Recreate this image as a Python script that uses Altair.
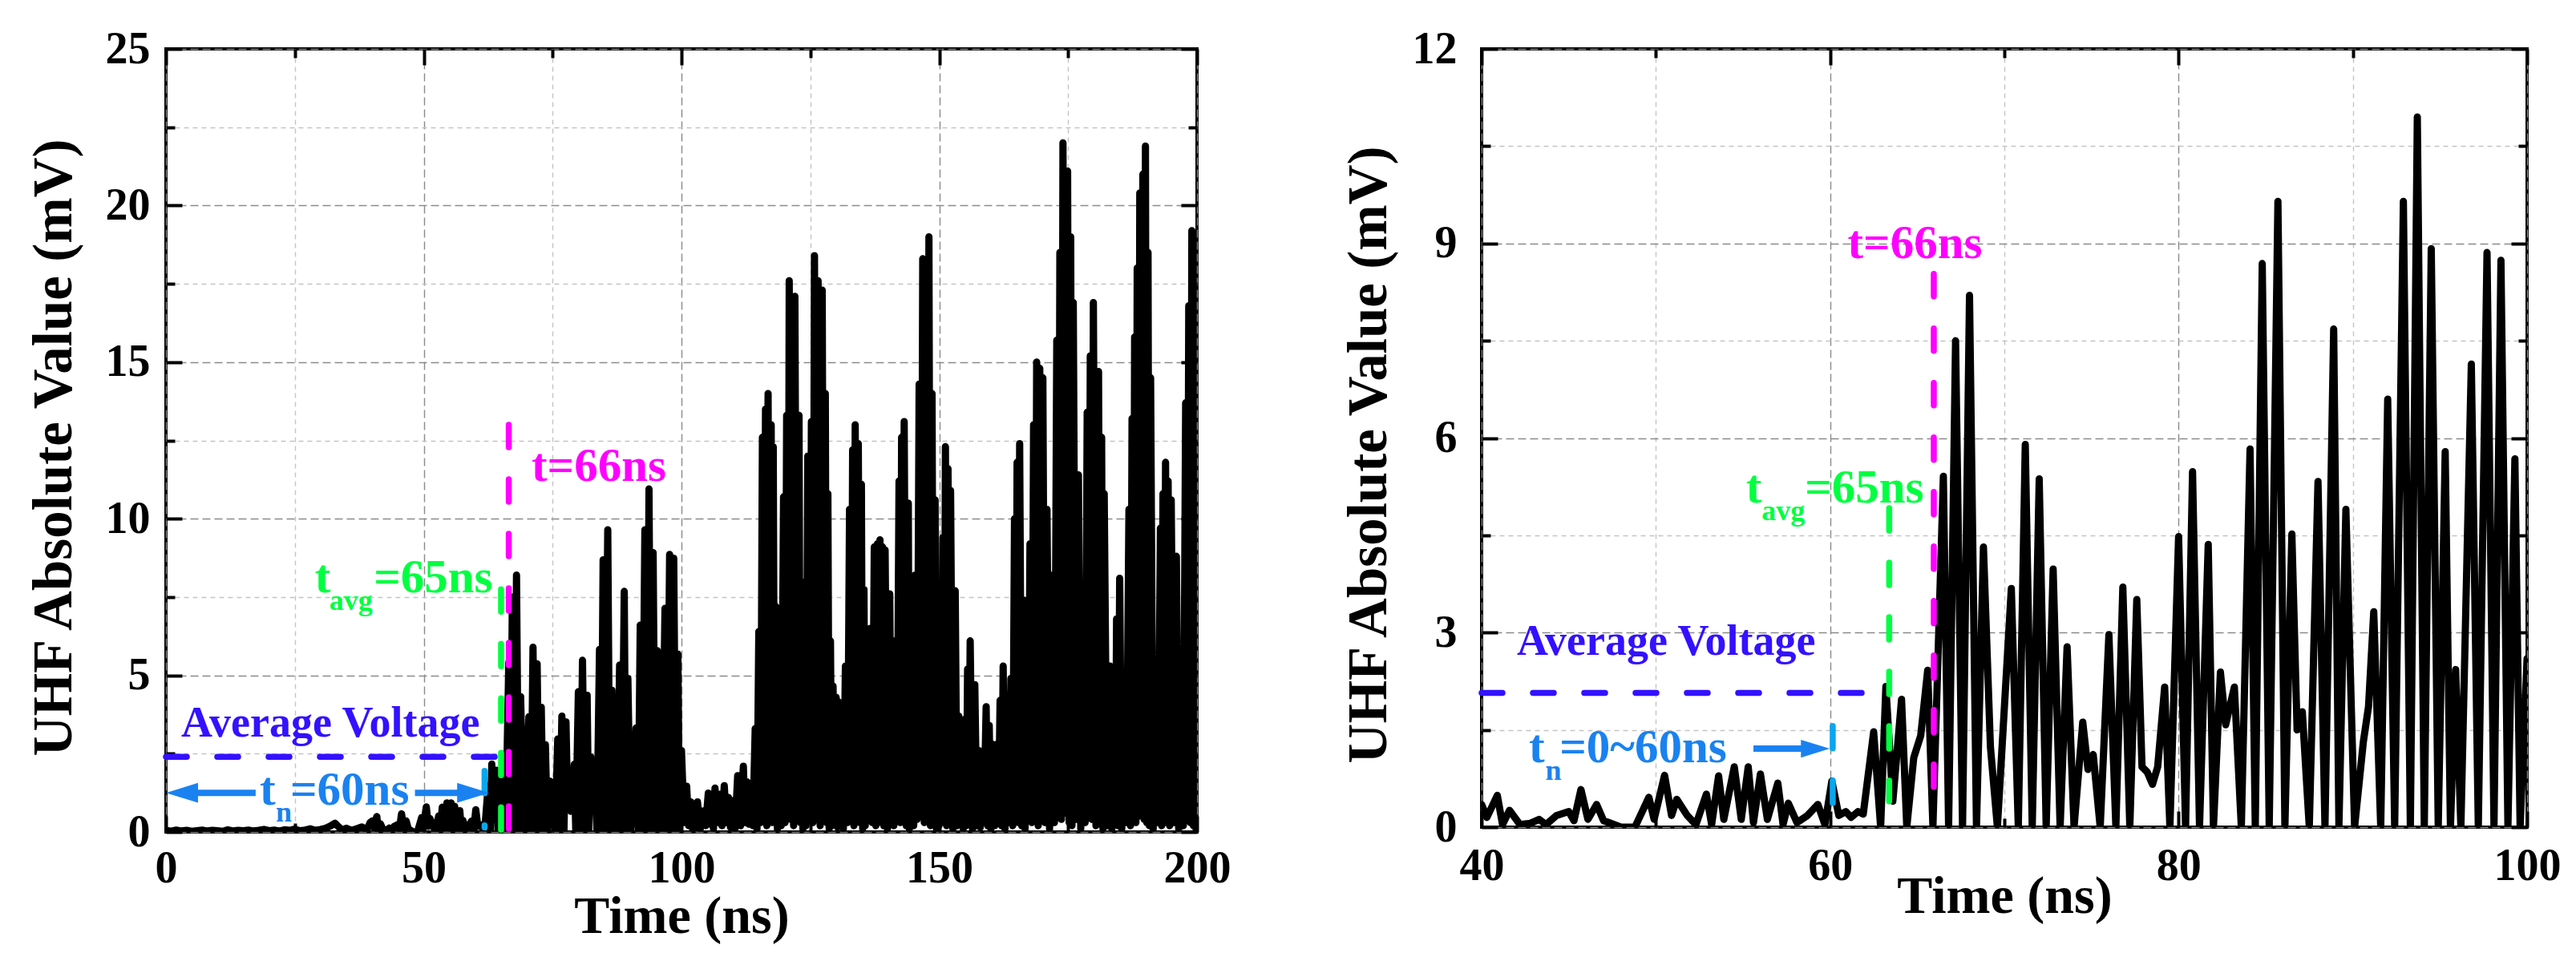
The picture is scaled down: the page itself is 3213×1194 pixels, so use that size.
import altair as alt
import pandas as pd

FONT = "Liberation Serif"
AVG_BLUE = "#3311FF"
TN_BLUE = "#1A82F0"
TN_LINE = "#0AA6EE"
GREEN = "#00FF40"
MAGENTA = "#FF00FF"

# ---------------- signal data (time in ns, |UHF| in mV) ----------------
t_early = [0, 1, 2, 3, 4, 5, 6, 7, 8, 9,
           10, 11, 12, 13, 14, 15, 16, 17, 18, 19,
           20, 21, 22, 23, 24, 25, 26, 27, 28, 29,
           30, 31, 32, 32.8, 33.5, 34.2, 35, 36, 37, 38,
           39, 39.6]
v_early = [0.05, 0.02, 0.06, 0.03, 0.05, 0.02, 0.04, 0.06, 0.03, 0.05,
           0.04, 0.02, 0.07, 0.03, 0.05, 0.04, 0.06, 0.03, 0.05, 0.08,
           0.04, 0.06, 0.03, 0.07, 0.05, 0.09, 0.04, 0.06, 0.10, 0.05,
           0.08, 0.12, 0.20, 0.28, 0.16, 0.06, 0.12, 0.05, 0.10, 0.16,
           0.07, 0.30]

t_mid = [40.0, 40.3, 40.9, 41.2, 41.6, 42.2, 42.8, 43.3, 43.7, 44.3,
         45.0, 45.3, 45.7, 46.1, 46.6, 47.0, 47.3, 48.0, 48.8, 49.6,
         49.9, 50.5, 50.9, 51.2, 51.8, 52.3, 52.9, 53.2, 53.6, 53.9,
         54.5, 54.9, 55.3, 55.6, 56.0, 56.4, 57.0, 57.3, 57.6, 58.1,
         58.7, 59.3, 59.7, 60.1, 60.5, 60.9, 61.2, 61.6, 61.9, 62.5,
         62.9, 63.2, 63.6, 64.1, 64.4, 64.8, 65.2, 65.6, 65.9, 66.5,
         66.8, 67.2, 67.6, 68.0, 68.4, 68.8, 69.2, 69.6, 70.4, 70.8,
         71.2, 71.6, 72.0, 72.4, 72.8, 73.2, 73.6, 74.0, 74.5, 74.8,
         75.1, 75.5, 76.0, 76.4, 76.8, 77.2, 77.6, 77.9, 78.2, 78.5,
         78.8, 79.2, 79.5, 80.0, 80.4, 80.8, 81.2, 81.7, 82.0, 82.4,
         82.7, 83.2, 83.6, 84.1, 84.4, 84.8, 85.2, 85.7, 86.1, 86.5,
         86.8, 87.1, 87.5, 88.0, 88.4, 88.9, 89.2, 89.6, 90.1, 90.6,
         90.9, 91.2, 91.6, 92.0, 92.4, 92.9, 93.3, 93.7, 94.1, 94.5,
         94.9, 95.3, 95.6, 95.9, 96.2, 96.8, 97.2, 97.7, 98.1, 98.5,
         98.9, 99.3, 99.6, 100.0]
v_mid = [0.35, 0.15, 0.49, 0.04, 0.26, 0.04, 0.06, 0.12, 0.04, 0.18,
         0.24, 0.10, 0.58, 0.12, 0.35, 0.10, 0.07, 0.00, 0.00, 0.46,
         0.12, 0.80, 0.18, 0.43, 0.18, 0.04, 0.51, 0.04, 0.79, 0.12,
         0.93, 0.12, 0.93, 0.07, 0.82, 0.12, 0.68, 0.04, 0.37, 0.07,
         0.18, 0.35, 0.04, 0.71, 0.18, 0.24, 0.15, 0.24, 0.20, 1.47,
         0.00, 2.17, 0.40, 1.97, 0.00, 1.07, 1.41, 2.42, 0.00, 5.41,
         0.00, 7.50, 0.00, 8.20, 0.00, 4.32, 1.24, 0.00, 3.68, 0.00,
         5.90, 0.00, 5.37, 0.00, 3.98, 0.00, 2.78, 0.00, 1.62, 0.89,
         1.12, 0.00, 2.97, 0.00, 3.70, 0.00, 3.51, 0.93, 0.85, 0.66,
         0.93, 2.16, 0.00, 4.48, 0.00, 5.48, 0.00, 4.36, 0.00, 2.39,
         1.58, 2.16, 0.00, 5.83, 0.00, 8.69, 0.00, 9.65, 0.00, 4.52,
         1.50, 1.78, 0.00, 5.33, 0.00, 7.68, 0.00, 4.90, 0.00, 1.31,
         1.86, 3.32, 0.00, 6.60, 0.00, 9.65, 0.00, 10.95, 0.00, 8.92,
         0.00, 5.79, 0.00, 2.43, 0.00, 7.14, 0.00, 8.86, 0.00, 8.74,
         0.00, 5.68, 0.00, 2.60]

# late part: oscillation peaks ...
t_peak = [101.0, 101.8, 102.5, 103.1, 104.2, 105.2, 105.9, 106.5, 107.4, 108.3,
          109.1, 109.9, 110.9, 112.0, 112.7, 113.4, 114.3, 115.0, 115.7, 116.3,
          116.8, 117.4, 117.8, 118.3, 118.9, 119.8, 120.4, 120.9, 121.5, 122.0,
          122.8, 123.3, 123.8, 124.5, 125.2, 125.8, 126.5, 127.3, 127.9, 128.4,
          128.9, 129.4, 130.0, 130.5, 131.0, 131.8, 132.6, 133.2, 133.7, 134.3,
          134.9, 135.4, 135.9, 136.6, 137.4, 138.0, 138.5, 139.0, 139.5, 140.4,
          141.0, 141.4, 142.2, 142.7, 143.2, 144.0, 144.4, 144.8, 145.3, 146.1,
          146.8, 147.4, 148.0, 148.6, 149.2, 149.7, 150.2, 150.7, 151.2, 151.7,
          152.2, 153.1, 153.8, 154.3, 155.0, 155.5, 156.0, 156.9, 157.7, 158.2,
          159.1, 159.7, 160.3, 161.2, 161.8, 162.4, 163.1, 163.9, 164.6, 165.1,
          165.6, 166.4, 166.9, 167.6, 168.3, 168.9, 169.5, 170.1, 170.9, 171.9,
          172.8, 173.4, 174.0, 174.9, 175.5, 176.0, 177.0, 177.9, 178.7, 179.3,
          179.9, 180.9, 181.5, 182.0, 183.1, 183.9, 184.4, 185.0, 185.8, 186.8,
          187.4, 187.9, 188.4, 188.9, 189.5, 190.0, 190.5, 191.0, 192.0, 192.9,
          193.4, 193.9, 194.4, 195.0, 196.0, 196.9, 197.8, 198.4, 199.0, 199.6,
          200.0]
v_peak = [1.46, 0.96, 0.80, 0.96, 0.67, 1.24, 1.10, 1.40, 1.20, 1.48,
          1.10, 1.00, 1.80, 2.10, 1.60, 1.55, 3.30, 6.40, 12.60, 13.50,
          14.00, 13.00, 12.30, 7.20, 5.90, 10.70, 13.30, 17.60, 17.00, 17.10,
          13.30, 8.00, 4.66, 12.00, 13.10, 18.40, 17.60, 17.30, 14.00, 10.80,
          6.10, 4.66, 4.30, 4.15, 3.70, 5.30, 10.30, 12.20, 13.00, 12.40,
          11.10, 7.75, 5.20, 6.50, 9.10, 9.20, 9.33, 9.10, 9.00, 7.60,
          5.20, 6.10, 11.20, 12.60, 13.10, 10.50, 7.60, 6.30, 8.20, 14.30,
          18.30, 17.80, 19.00, 14.00, 10.60, 6.90, 6.90, 9.40, 12.30, 11.60,
          10.90, 7.70, 3.70, 3.00, 3.60, 5.20, 6.10, 4.70, 2.60, 2.30,
          4.00, 3.40, 2.80, 2.80, 4.20, 5.30, 4.10, 4.90, 10.00, 11.80,
          12.40, 7.40, 6.50, 9.20, 13.00, 15.00, 14.80, 14.50, 10.30, 8.20,
          15.70, 18.50, 22.00, 21.10, 19.00, 16.90, 11.40, 7.10, 13.40, 15.20,
          16.90, 14.70, 12.60, 10.80, 5.30, 4.40, 6.80, 8.10, 3.60, 10.30,
          13.20, 15.80, 18.00, 20.40, 21.00, 21.90, 18.50, 14.50, 5.40, 9.70,
          10.80, 11.80, 11.20, 10.60, 8.80, 4.20, 13.70, 16.80, 19.20, 12.00,
          4.00]
# ... and the troughs between them
t_trough = [100.5, 101.4, 102.15, 102.8, 103.65, 104.7, 105.55, 106.2, 106.95, 107.85,
            108.7, 109.5, 110.4, 111.45, 112.35, 113.05, 113.85, 114.65, 115.35, 116.0,
            116.55, 117.1, 117.6, 118.05, 118.6, 119.35, 120.1, 120.65, 121.2, 121.75,
            122.4, 123.05, 123.55, 124.15, 124.85, 125.5, 126.15, 126.9, 127.6, 128.15,
            128.65, 129.15, 129.7, 130.25, 130.75, 131.4, 132.2, 132.9, 133.45, 134.0,
            134.6, 135.15, 135.65, 136.25, 137.0, 137.7, 138.25, 138.75, 139.25, 139.95,
            140.7, 141.2, 141.8, 142.45, 142.95, 143.6, 144.2, 144.6, 145.05, 145.7,
            146.45, 147.1, 147.7, 148.3, 148.9, 149.45, 149.95, 150.45, 150.95, 151.45,
            151.95, 152.65, 153.45, 154.05, 154.65, 155.25, 155.75, 156.45, 157.3, 157.95,
            158.65, 159.4, 160.0, 160.75, 161.5, 162.1, 162.75, 163.5, 164.25, 164.85,
            165.35, 166.0, 166.65, 167.25, 167.95, 168.6, 169.2, 169.8, 170.5, 171.4,
            172.35, 173.1, 173.7, 174.45, 175.2, 175.75, 176.5, 177.45, 178.3, 179.0,
            179.6, 180.4, 181.2, 181.75, 182.55, 183.5, 184.15, 184.7, 185.4, 186.3,
            187.1, 187.65, 188.15, 188.65, 189.2, 189.75, 190.25, 190.75, 191.5, 192.45,
            193.15, 193.65, 194.15, 194.7, 195.5, 196.45, 197.35, 198.1, 198.7, 199.3,
            199.8]
v_trough = [0.30, 0.20, 0.10, 0.15, 0.10, 0.20, 0.25, 0.10, 0.30, 0.20,
            0.30, 0.15, 0.10, 0.20, 0.30, 0.25, 0.20, 0.10, 0.30, 0.40,
            0.20, 0.50, 0.30, 0.40, 0.10, 0.20, 0.30, 0.60, 0.40, 0.20,
            0.50, 0.30, 0.10, 0.20, 0.40, 0.30, 0.60, 0.20, 0.50, 0.30,
            0.10, 0.20, 0.30, 0.15, 0.20, 0.10, 0.30, 0.40, 0.20, 0.50,
            0.30, 0.10, 0.20, 0.40, 0.30, 0.20, 0.50, 0.30, 0.20, 0.10,
            0.30, 0.20, 0.40, 0.30, 0.50, 0.20, 0.10, 0.30, 0.20, 0.40,
            0.60, 0.30, 0.50, 0.20, 0.30, 0.10, 0.20, 0.30, 0.40, 0.20,
            0.30, 0.10, 0.20, 0.30, 0.10, 0.20, 0.30, 0.10, 0.20, 0.15,
            0.30, 0.20, 0.10, 0.20, 0.30, 0.20, 0.10, 0.30, 0.20, 0.40,
            0.30, 0.20, 0.10, 0.40, 0.30, 0.50, 0.20, 0.40, 0.30, 0.10,
            0.30, 0.50, 0.40, 0.60, 0.30, 0.20, 0.40, 0.10, 0.30, 0.50,
            0.40, 0.20, 0.30, 0.10, 0.20, 0.10, 0.30, 0.20, 0.10, 0.30,
            0.20, 0.40, 0.30, 0.50, 0.60, 0.40, 0.30, 0.20, 0.10, 0.30,
            0.20, 0.40, 0.30, 0.20, 0.30, 0.10, 0.20, 0.40, 0.30, 0.20,
            0.10]

signal = pd.DataFrame({
    "t": t_early + t_mid + t_peak + t_trough,
    "v": v_early + v_mid + v_peak + v_trough,
}).sort_values("t").reset_index(drop=True)

# ---------------- axis tick values ----------------
xticks_left = [0, 25, 50, 75, 100, 125, 150, 175, 200]
yticks_left = [0, 2.5, 5, 7.5, 10, 12.5, 15, 17.5, 20, 22.5, 25]
xticks_right = [40, 50, 60, 70, 80, 90, 100]
yticks_right = [0, 1.5, 3, 4.5, 6, 7.5, 9, 10.5, 12]

# ---------------- annotations (data coordinates) ----------------
# left panel
L_vx = [61.8, 65.0, 66.5]
L_vtop = [1.95, 7.75, 13.0]
L_vbot = [0.15, 0.0, 0.0]
L_vcol = [TN_LINE, GREEN, MAGENTA]
L_avg_x = [0.0, 65.2]
L_avg_y = 2.4
L_arrow_y = 1.25
L_arrow_seg_x0 = [3.0, 48.3]
L_arrow_seg_x1 = [17.4, 59.7]
L_head_left_x = 0.0
L_head_right_x = 62.7
L_txt = ["Average Voltage", "t", "n", "=60ns", "t", "avg", "=65ns", "t=66ns"]
L_txt_x = [2.95, 18.2, 21.3, 24.1, 28.9, 31.7, 40.3, 70.9]
L_txt_y = [3.05, 0.87, 0.33, 0.87, 7.65, 7.09, 7.65, 11.2]
L_txt_fs = [54, 59, 36, 59, 59, 36, 59, 59]
L_txt_col = [AVG_BLUE, TN_BLUE, TN_BLUE, TN_BLUE, GREEN, GREEN, GREEN, MAGENTA]

# right panel
R_vx = [60.15, 63.39, 65.95]
R_vtop = [1.56, 4.92, 8.53]
R_vbot = [0.31, 0.4, 0.16]
R_vcol = [TN_LINE, GREEN, MAGENTA]
R_avg_x = [40.0, 63.0]
R_avg_y = 2.07
R_arrow_y = 1.21
R_arrow_seg_x0 = [55.6]
R_arrow_seg_x1 = [59.1]
R_head_right_x = 59.98
R_txt = ["Average Voltage", "t", "n", "=0~60ns", "t", "avg", "=65ns", "t=66ns"]
R_txt_x = [42.03, 42.72, 43.66, 44.47, 55.17, 56.07, 58.55, 61.0]
R_txt_y = [2.66, 1.0, 0.73, 1.0, 5.0, 4.73, 5.0, 8.78]
R_txt_fs = [54, 59, 36, 59, 59, 36, 59, 59]
R_txt_col = [AVG_BLUE, TN_BLUE, TN_BLUE, TN_BLUE, GREEN, GREEN, GREEN, MAGENTA]

HEAD_L = "M0,0L2,-0.62L2,0.62Z"
HEAD_R = "M0,0L-2,-0.62L-2,0.62Z"


def cond(test, a, b):
    return {"condition": {"test": test, "value": a}, "value": b}


def panel(W, H, xdom, ydom, xticks, yticks, xmaj, ymaj, lpx, lpy,
          xt_y, yt_x, yt_y, line_w,
          vx, vtop, vbot, vcol, avg_x, avg_y, ar_y, seg0, seg1, heads,
          txt, tx, ty, tfs, tcol):
    tx_test = f"datum.value % {xmaj} === 0"
    ty_test = f"datum.value % {ymaj} === 0"
    sx = alt.Scale(domain=xdom, nice=False, zero=False)
    sy = alt.Scale(domain=ydom, nice=False, zero=False)
    lab = dict(labelFont=FONT, labelFontSize=56, labelFontWeight="bold",
               labelColor="black", labelFlush=False, labelOverlap=False)
    ttl = dict(titleFont=FONT, titleFontWeight="bold",
               titleColor="black", titleBaseline="alphabetic", titleAlign="center")
    xa = alt.Axis(values=xticks, labelExpr=f"{tx_test} ? datum.label : ''",
                  labelPadding=lpx, tickColor="black", tickWidth=4,
                  tickSize=cond(tx_test, -20, -11), domain=False, grid=True,
                  gridColor=cond(tx_test, "#8a8a8a", "#c4c4c4"),
                  gridDash=cond(tx_test, [10, 5], [6, 5]), gridWidth=1.4,
                  gridOpacity=1, title="Time (ns)", titleFontSize=66,
                  titleX=W / 2, titleY=xt_y, **lab, **ttl)
    ya = alt.Axis(values=yticks, labelExpr=f"{ty_test} ? datum.label : ''",
                  labelPadding=lpy, tickColor="black", tickWidth=4,
                  tickSize=cond(ty_test, -20, -11), domain=False, grid=True,
                  gridColor=cond(ty_test, "#8a8a8a", "#c4c4c4"),
                  gridDash=cond(ty_test, [10, 5], [6, 5]), gridWidth=1.4,
                  gridOpacity=1, title="UHF Absolute Value (mV)",
                  titleFontSize=69, titleAngle=270, titleX=yt_x, titleY=yt_y,
                  **lab, **ttl)
    xm = alt.Axis(orient="top", values=xticks, labels=False, grid=False,
                  domain=False, tickColor="black", tickWidth=4,
                  tickSize=cond(tx_test, -20, -11), title=None)
    ym = alt.Axis(orient="right", values=yticks, labels=False, grid=False,
                  domain=False, tickColor="black", tickWidth=4,
                  tickSize=cond(ty_test, -20, -11), title=None)

    line = alt.Chart(signal).mark_line(
        color="black", strokeWidth=line_w, strokeJoin="round",
        strokeCap="round", clip=True
    ).encode(x=alt.X("t:Q", scale=sx, axis=xa),
             y=alt.Y("v:Q", scale=sy, axis=ya),
             order=alt.Order("t:Q"))
    in_view = (f"datum.t >= {xdom[0]} && datum.t <= {xdom[1]} && "
               f"datum.v <= {ydom[1]}")
    mirror = alt.Chart(signal).transform_filter(in_view).mark_point(
        opacity=0, clip=True
    ).encode(x=alt.X("t:Q", scale=sx, axis=xm), y=alt.Y("v:Q", scale=sy, axis=ym))

    vdf = pd.DataFrame({"x": vx, "y1": vtop, "y0": vbot, "c": vcol})
    vrules = alt.Chart(vdf).mark_rule(
        strokeWidth=7.5, strokeDash=[28, 40], strokeCap="round"
    ).encode(x=alt.X("x:Q", scale=sx, axis=None),
             y=alt.Y("y1:Q", scale=sy, axis=None), y2="y0:Q",
             color=alt.Color("c:N", scale=None))

    adf = pd.DataFrame({"x0": [avg_x[0]], "x1": [avg_x[1]], "y": [avg_y]})
    avg = alt.Chart(adf).mark_rule(
        strokeWidth=7.5, strokeDash=[26, 38], strokeCap="round", color=AVG_BLUE
    ).encode(x=alt.X("x0:Q", scale=sx, axis=None), x2="x1:Q",
             y=alt.Y("y:Q", scale=sy, axis=None))

    sdf = pd.DataFrame({"x0": seg0, "x1": seg1, "y": [ar_y] * len(seg0)})
    segs = alt.Chart(sdf).mark_rule(strokeWidth=8, color=TN_BLUE).encode(
        x=alt.X("x0:Q", scale=sx, axis=None), x2="x1:Q",
        y=alt.Y("y:Q", scale=sy, axis=None))

    layers = [line, mirror, vrules, avg, segs]
    for hx, shape, size in heads:
        hdf = pd.DataFrame({"x": [hx], "y": [ar_y]})
        layers.append(alt.Chart(hdf).mark_point(
            shape=shape, filled=True, size=size, color=TN_BLUE,
            opacity=1, strokeWidth=0
        ).encode(x=alt.X("x:Q", scale=sx, axis=None),
                 y=alt.Y("y:Q", scale=sy, axis=None)))

    tdf = pd.DataFrame({"x": tx, "y": ty, "s": txt, "fs": tfs, "c": tcol})
    texts = alt.Chart(tdf).mark_text(
        align="left", baseline="alphabetic", font=FONT, fontWeight="bold"
    ).encode(x=alt.X("x:Q", scale=sx, axis=None),
             y=alt.Y("y:Q", scale=sy, axis=None),
             text="s:N", size=alt.Size("fs:Q", scale=None, legend=None),
             color=alt.Color("c:N", scale=None))
    layers.append(texts)

    return alt.layer(*layers).resolve_axis(
        x="independent", y="independent").properties(width=W, height=H)


left = panel(1286, 977, [0, 200], [0, 25], xticks_left, yticks_left, 50, 5,
             38, 40, 125, -119, 497, 9,
             L_vx, L_vtop, L_vbot, L_vcol, L_avg_x, L_avg_y, L_arrow_y,
             L_arrow_seg_x0, L_arrow_seg_x1,
             [(L_head_left_x, HEAD_L, 1600), (L_head_right_x, HEAD_R, 1600)],
             L_txt, L_txt_x, L_txt_y, L_txt_fs, L_txt_col)

right = panel(1304, 971, [40, 100], [0, 12], xticks_right, yticks_right, 20, 3,
              41, 51, 106, -120, 506, 9,
              R_vx, R_vtop, R_vbot, R_vcol, R_avg_x, R_avg_y, R_arrow_y,
              R_arrow_seg_x0, R_arrow_seg_x1,
              [(R_head_right_x, HEAD_R, 1296)],
              R_txt, R_txt_x, R_txt_y, R_txt_fs, R_txt_col)

chart = alt.hconcat(left, right, spacing=133).properties(
    padding={"left": 22, "top": 23, "right": 5, "bottom": 5},
    background="white",
).configure_view(stroke="black", strokeWidth=4)

chart.save("out.html", embed_options={"renderer": "svg", "actions": False})
